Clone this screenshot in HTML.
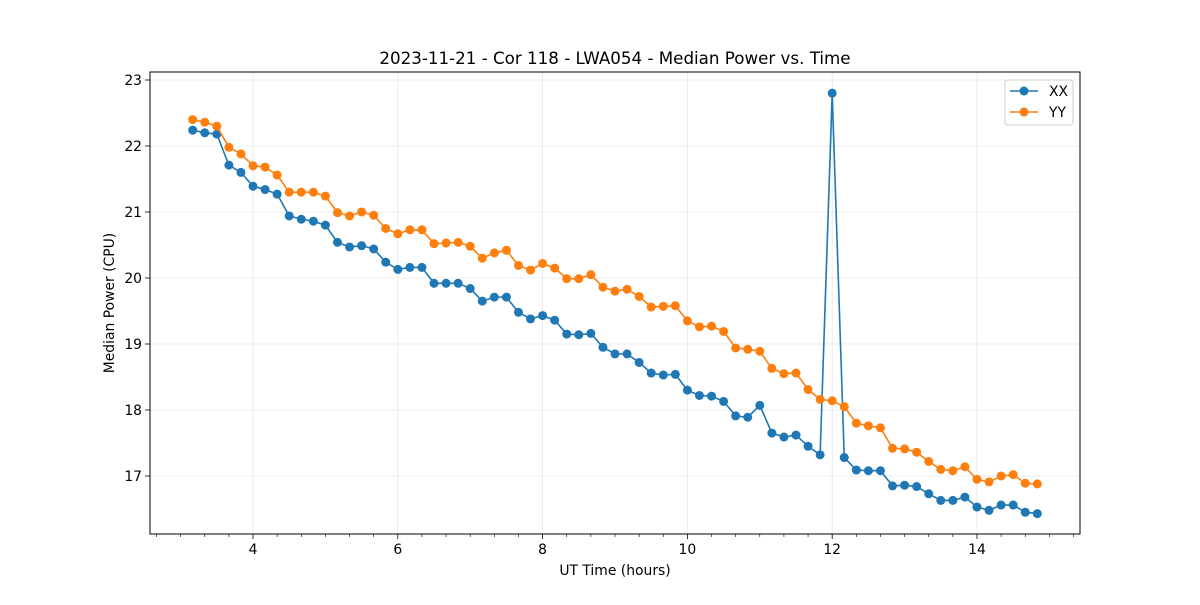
<!DOCTYPE html>
<html><head><meta charset="utf-8"><style>
body{margin:0;background:#fff;}
text{font-family:"DejaVu Sans","Liberation Sans",sans-serif;}
</style></head><body>
<svg id="chart" width="1200" height="600" xmlns="http://www.w3.org/2000/svg">
<rect width="1200" height="600" fill="#fff"/>
<g id="grid"></g><g id="series"></g><g id="axes"></g>
</svg>
<script>
const xx = [22.24,22.2,22.18,21.71,21.6,21.39,21.34,21.27,20.94,20.89,20.86,20.8,20.54,20.47,20.49,20.44,20.24,20.13,20.16,20.16,19.92,19.92,19.92,19.84,19.65,19.71,19.71,19.48,19.38,19.43,19.36,19.15,19.14,19.16,18.95,18.85,18.85,18.72,18.56,18.53,18.54,18.3,18.22,18.21,18.13,17.91,17.89,18.07,17.65,17.59,17.62,17.45,17.32,22.8,17.28,17.09,17.08,17.08,16.85,16.86,16.84,16.73,16.63,16.63,16.68,16.53,16.48,16.56,16.56,16.45,16.43];
const yy = [22.4,22.36,22.3,21.98,21.88,21.7,21.68,21.56,21.3,21.3,21.3,21.24,20.99,20.94,21.0,20.95,20.75,20.67,20.73,20.73,20.52,20.53,20.54,20.48,20.3,20.38,20.42,20.19,20.12,20.22,20.15,19.99,19.99,20.05,19.86,19.8,19.83,19.72,19.56,19.57,19.58,19.35,19.26,19.27,19.19,18.94,18.92,18.89,18.63,18.55,18.56,18.31,18.16,18.14,18.05,17.8,17.76,17.73,17.42,17.41,17.36,17.22,17.1,17.08,17.14,16.95,16.91,17.0,17.02,16.89,16.88];
const startHour = 3.1667;
const stepHour = 1/6;
const xTicks = [4,6,8,10,12,14];
const yTicks = [17,18,19,20,21,22,23];
const L=150,R=1080,T=72,B=534;
const X0=2.577,X1=15.423,Y0=16.121,Y1=23.121;
const sx=v=>L+(v-X0)/(X1-X0)*(R-L);
const sy=v=>B-(v-Y0)/(Y1-Y0)*(B-T);
const NS="http://www.w3.org/2000/svg";
function mk(tag,attrs,parent,txt){const e=document.createElementNS(NS,tag);for(const k in attrs)e.setAttribute(k,attrs[k]);if(txt!==undefined)e.textContent=txt;parent.appendChild(e);return e;}
const grid=document.getElementById('grid'),ser=document.getElementById('series'),ax=document.getElementById('axes');
xTicks.forEach(t=>{const x=sx(t);
 const g=mk('line',{x1:x,x2:x,y1:T,y2:B,stroke:'#b0b0b0','stroke-opacity':0.3,'stroke-width':0.8},grid);
 
 
 mk('line',{x1:x,x2:x,y1:B,y2:B+5,stroke:'#000','stroke-width':0.8},ax);
 const lb=mk('text',{x:x,y:B+20,'text-anchor':'middle','font-size':13.9},ax,String(t));
 
 
});
for(let m=2+2/3;m<X1;m+=1/3){if(Math.abs(m-Math.round(m/2)*2)<0.01)continue;const x=sx(m);
 mk('line',{x1:x,x2:x,y1:B,y2:B+3,stroke:'#000','stroke-width':0.6},ax);}
yTicks.forEach(t=>{const y=sy(t);
 const g=mk('line',{x1:L,x2:R,y1:y,y2:y,stroke:'#b0b0b0','stroke-opacity':0.3,'stroke-width':0.8},grid);
 
 
 mk('line',{x1:L-5,x2:L,y1:y,y2:y,stroke:'#000','stroke-width':0.8},ax);
 const lb=mk('text',{x:L-8,y:y+5,'text-anchor':'end','font-size':13.9},ax,String(t));
 
 
});
function series(data,color,name){
 const pts=data.map((v,i)=>sx(startHour+i*stepHour)+','+sy(v)).join(' ');
 const pl=mk('polyline',{points:pts,fill:'none',stroke:color,'stroke-width':1.6},ser);
 
 
 data.forEach((v,i)=>{const c=mk('circle',{cx:sx(startHour+i*stepHour),cy:sy(v),r:4.5,fill:color},ser);
  
  });
}
series(xx,'#1f77b4','xx');
series(yy,'#ff7f0e','yy');
const fr=mk('rect',{x:L,y:T,width:R-L,height:B-T,fill:'none',stroke:'#000','stroke-width':1},ax);


const tt=mk('text',{x:(L+R)/2,y:64,'text-anchor':'middle','font-size':16.7},ax,'2023-11-21 - Cor 118 - LWA054 - Median Power vs. Time');


const xt=mk('text',{x:(L+R)/2,y:575,'text-anchor':'middle','font-size':13.9},ax,'UT Time (hours)');


const yt=mk('text',{x:114,y:(T+B)/2,'text-anchor':'middle','font-size':13.9,transform:'rotate(-90 114 '+((T+B)/2)+')'},ax,'Median Power (CPU)');


const lg=mk('g',{},ax);


mk('rect',{x:1005,y:80,width:68,height:45,rx:3,fill:'#fff','fill-opacity':0.8,stroke:'#ccc'},lg);
[['XX','#1f77b4',91],['YY','#ff7f0e',112]].forEach(([n,c,y])=>{
 const e=mk('g',{},lg);
 
 
 mk('line',{x1:1010,x2:1038,y1:y,y2:y,stroke:c,'stroke-width':1.6},e);
 mk('circle',{cx:1024,cy:y,r:4.5,fill:c},e);
 mk('text',{x:1049,y:y+5,'font-size':13.9},e,n);
});
</script>
</body></html>
